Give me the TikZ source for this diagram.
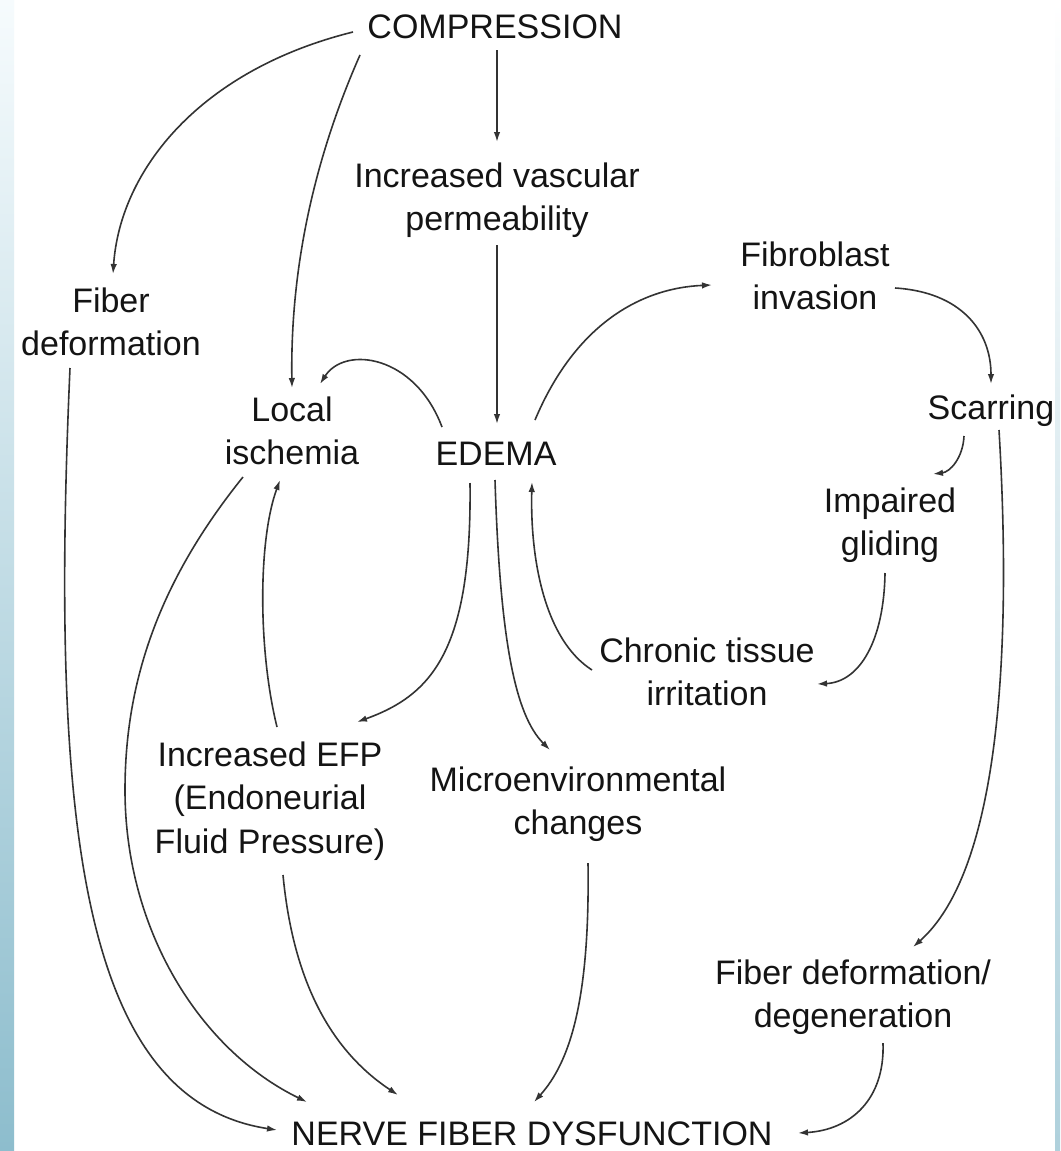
\documentclass[tikz,border=0pt]{standalone}
\usepackage{fontspec}
\setmainfont{Liberation Sans}
\usetikzlibrary{arrows.meta}
\definecolor{txt}{HTML}{141414}
\definecolor{ln}{HTML}{333333}
\definecolor{edgetop}{HTML}{F6FBFD}
\definecolor{edgemid}{HTML}{DDEEF4}
\definecolor{edgebot}{HTML}{8DBDCD}
\newcommand{\labfont}{\fontsize{34}{43.5}\selectfont}
\begin{document}
\begin{tikzpicture}[x=1pt,y=-1pt,
  lab/.style={align=center, inner sep=0pt, text=txt, font=\labfont,
    execute at begin node={\rule{0pt}{26pt}},
    execute at end node={\rule[-9pt]{0pt}{9pt}}},
  arr/.style={draw=ln, line width=1.6pt, -{Latex[length=10pt,width=6.5pt]}}]
\useasboundingbox (0,0) rectangle (1060,1151);
\fill[white] (0,0) rectangle (1060,1151);
\shade[top color=edgetop, middle color=edgemid, bottom color=edgebot] (0,0) rectangle (14,1151);
\shade[top color=white, bottom color=edgebot!70] (1055,0) rectangle (1060,1151);

\node[lab] (comp)  at (495,29.5)    {COMPRESSION};
\node[lab] (vasc)  at (497,201.25)  {Increased vascular\\permeability};
\node[lab] (fibL)  at (111,326.25)  {Fiber\\deformation};
\node[lab] (fibro) at (815,280.25)  {Fibroblast\\invasion};
\node[lab] (scar)  at (991,410.5)   {Scarring};
\node[lab] (isch)  at (292,435.25)  {Local\\ischemia};
\node[lab] (edema) at (496,456.5)   {EDEMA};
\node[lab] (glide) at (890,526.25)  {Impaired\\gliding};
\node[lab] (chron) at (707,676.25)  {Chronic tissue\\irritation};
\node[lab] (efp)   at (270,802)     {Increased EFP\\(Endoneurial\\Fluid Pressure)};
\node[lab] (micro) at (578,805.25)  {Microenvironmental\\changes};
\node[lab] (fdeg)  at (853,998.25)  {Fiber deformation/\\degeneration};
\node[lab] (nerve) at (532,1136.5)  {NERVE FIBER DYSFUNCTION};

\draw[arr] ([shift={(-142,2.5)}]comp.center) .. controls (200,70) and (120,170) .. ([shift={(2,-52.25)}]fibL.center);
\draw[arr] ([shift={(-135,25.5)}]comp.center) .. controls (318,150) and (290,260) .. ([shift={(0,-47.25)}]isch.center);
\draw[arr] ([shift={(2,20.5)}]comp.center) -- ([shift={(0,-59.25)}]vasc.center);
\draw[arr] ([shift={(0,43.75)}]vasc.center) -- ([shift={(1,-32.5)}]edema.center);
\draw[arr] ([shift={(-54,-29.5)}]edema.center) .. controls (415,355) and (345,345) .. ([shift={(28,-51.25)}]isch.center);
\draw[arr] ([shift={(39,-36.5)}]edema.center) .. controls (575,325) and (640,288) .. ([shift={(-103,4.75)}]fibro.center);
\draw[arr] ([shift={(80,7.75)}]fibro.center) .. controls (960,292) and (991,330) .. ([shift={(0,-26.5)}]scar.center);
\draw[arr] ([shift={(-27,25.5)}]scar.center) .. controls (963,458) and (950,472) .. ([shift={(43,-52.25)}]glide.center);
\draw[arr] ([shift={(-5,46.75)}]glide.center) .. controls (884,640) and (860,682) .. ([shift={(110,7.75)}]chron.center);
\draw[arr] ([shift={(-115,-6.25)}]chron.center) .. controls (545,640) and (530,560) .. ([shift={(36,25.5)}]edema.center);
\draw[arr] ([shift={(-26,26.5)}]edema.center) .. controls (472,650) and (432,695) .. ([shift={(87,-80)}]efp.center);
\draw[arr] ([shift={(-1,23.5)}]edema.center) .. controls (500,640) and (515,715) .. ([shift={(-28,-55.25)}]micro.center);
\draw[arr] ([shift={(7,-75)}]efp.center) .. controls (258,650) and (258,540) .. ([shift={(-12,44.75)}]isch.center);
\draw[arr] ([shift={(-49,41.75)}]isch.center) .. controls (160,580) and (125,680) .. (125,790)
           .. controls (125,930) and (200,1050) .. ([shift={(-225,-34.5)}]nerve.center);
\draw[arr] ([shift={(13,73)}]efp.center) .. controls (293,980) and (330,1050) .. ([shift={(-134,-41.5)}]nerve.center);
\draw[arr] ([shift={(10,57.75)}]micro.center) .. controls (590,1000) and (570,1062) .. ([shift={(2,-34.5)}]nerve.center);
\draw[arr] ([shift={(8,19.5)}]scar.center) .. controls (1012,650) and (1000,870) .. ([shift={(60,-51.25)}]fdeg.center);
\draw[arr] ([shift={(30,44.75)}]fdeg.center) .. controls (885,1100) and (850,1130) .. ([shift={(266,-3.5)}]nerve.center);
\draw[arr] ([shift={(-41,41.75)}]fibL.center) .. controls (50,820) and (80,1100) .. ([shift={(-255,-6.5)}]nerve.center);
\end{tikzpicture}
\end{document}
